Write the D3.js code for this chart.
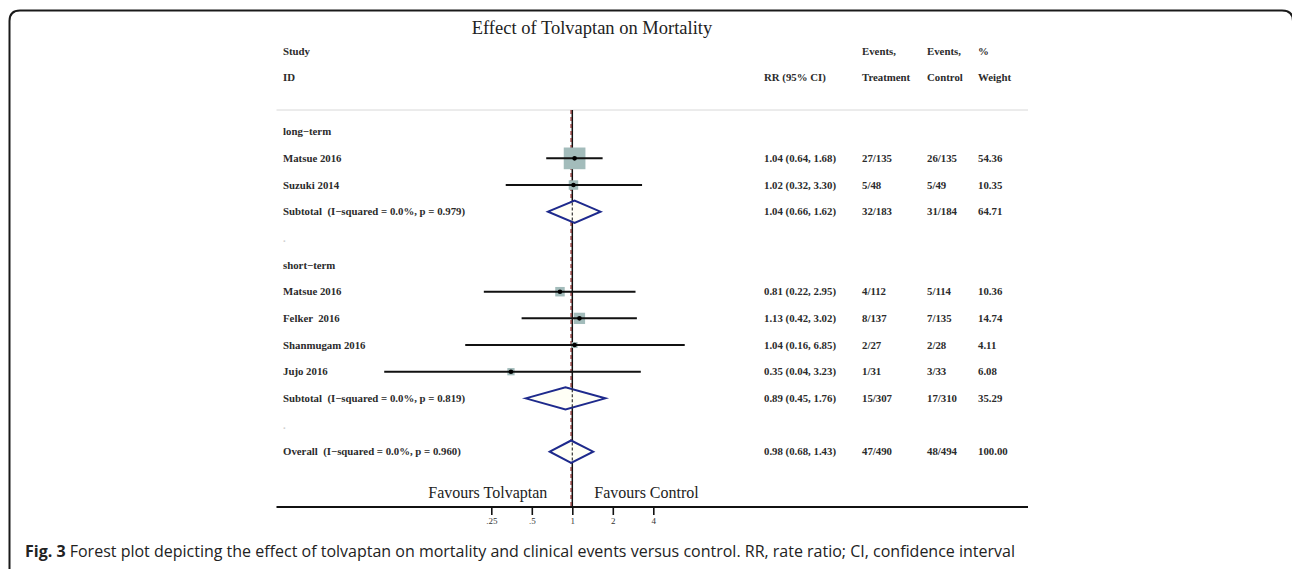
<!DOCTYPE html>
<html>
<head>
<meta charset="utf-8">
<script src="https://cdn.jsdelivr.net/npm/d3@7/dist/d3.min.js"></script>
<style>
  html, body { margin: 0; padding: 0; background: #fff; }
  svg { display: block; }
  text { white-space: pre; }
  .tbl { font-family: "Liberation Serif", "Times New Roman", serif; font-weight: bold; font-size: 10.8px; fill: #2b2b2b; }
</style>
</head>
<body>
<svg id="chart" width="1292" height="569"></svg>
<script>
// Rows of the forest plot, top to bottom
const rowLabels = [
  "long\u2212term", "Matsue 2016", "Suzuki 2014",
  "Subtotal  (I\u2212squared = 0.0%, p = 0.979)", ".",
  "short\u2212term", "Matsue 2016", "Felker  2016", "Shanmugam 2016", "Jujo 2016",
  "Subtotal  (I\u2212squared = 0.0%, p = 0.819)", ".",
  "Overall  (I\u2212squared = 0.0%, p = 0.960)"
];
const rowTypes = ["group", "study", "study", "subtotal", "blank",
  "group", "study", "study", "study", "study", "subtotal", "blank", "overall"];
const rr   = [null, 1.04, 1.02, 1.04, null, null, 0.81, 1.13, 1.04, 0.35, 0.89, null, 0.98];
const ciLo = [null, 0.64, 0.32, 0.66, null, null, 0.22, 0.42, 0.16, 0.04, 0.45, null, 0.68];
const ciHi = [null, 1.68, 3.30, 1.62, null, null, 2.95, 3.02, 6.85, 3.23, 1.76, null, 1.43];
const eventsTreatment = [null, "27/135", "5/48", "32/183", null, null, "4/112", "8/137", "2/27", "1/31", "15/307", null, "47/490"];
const eventsControl   = [null, "26/135", "5/49", "31/184", null, null, "5/114", "7/135", "2/28", "3/33", "17/310", null, "48/494"];
const weights = [null, 54.36, 10.35, 64.71, null, null, 10.36, 14.74, 4.11, 6.08, 35.29, null, 100.00];

// Axis ticks
const tickValues = [0.25, 0.5, 1, 2, 4];
const tickLabels = [".25", ".5", "1", "2", "4"];

const overallRR = 0.98;

const svg = d3.select("#chart");

// Panel frame with rounded top corners
svg.append("path")
  .attr("d", "M9.5,575 V21 Q9.5,10.5 20,10.5 H1282 Q1293,10.5 1293,21 V575")
  .attr("fill", "none").attr("stroke", "#1a1a1a").attr("stroke-width", 2);

// Scales
const x = d3.scaleLog().domain([0.25, 4]).range([491.3, 653.3]);
const y = d3.scaleLinear().domain([0, rowLabels.length - 1]).range([131.7, 451.7]);

const col = { label: 283, rr: 764, evT: 862, evC: 927, w: 978 };
const lineLeft = 276.5, lineRight = 1028;
const topY = 110, axisY = 507;

// Title
svg.append("text")
  .attr("x", 592).attr("y", 34)
  .attr("text-anchor", "middle")
  .style("font-family", "'Liberation Serif', serif")
  .style("font-size", "18.5px").style("fill", "#222")
  .text("Effect of Tolvaptan on Mortality");

// Column headers
const headers = [
  [col.label, 51, "Study"], [col.label, 77, "ID"],
  [col.rr, 77, "RR (95% CI)"],
  [col.evT, 51, "Events,"], [col.evT, 77, "Treatment"],
  [col.evC, 51, "Events,"], [col.evC, 77, "Control"],
  [col.w, 51, "%"], [col.w, 77, "Weight"]
];
svg.append("g").selectAll("text").data(headers).join("text")
  .attr("class", "tbl")
  .attr("x", d => d[0]).attr("y", d => d[1]).attr("dy", "0.35em")
  .text(d => d[2]);

// Header separator
svg.append("line")
  .attr("x1", lineLeft).attr("x2", lineRight).attr("y1", topY).attr("y2", topY)
  .attr("stroke", "#d8d8d8").attr("stroke-width", 1);

const idx = d3.range(rowLabels.length);

// Row labels
svg.append("g").selectAll("text").data(idx).join("text")
  .attr("class", "tbl")
  .attr("x", col.label).attr("y", i => y(i)).attr("dy", "0.35em")
  .style("fill", i => rowTypes[i] === "blank" ? "#cfcfcf" : null)
  .text(i => rowLabels[i]);

// Null line at RR = 1 and dashed line at the overall estimate
svg.append("line")
  .attr("x1", x(1)).attr("x2", x(1)).attr("y1", topY).attr("y2", axisY)
  .attr("stroke", "#111").attr("stroke-width", 1.5);
svg.append("line")
  .attr("x1", x(overallRR)).attr("x2", x(overallRR)).attr("y1", topY).attr("y2", axisY)
  .attr("stroke", "#8a3434").attr("stroke-width", 1.4).attr("stroke-dasharray", "4,3");

const studyIdx = idx.filter(i => rowTypes[i] === "study");
const poolIdx = idx.filter(i => rowTypes[i] === "subtotal" || rowTypes[i] === "overall");

// Weight boxes (area proportional to weight)
const boxSide = d3.scaleSqrt().domain([0, 54.36]).range([0, 21.7]);
svg.append("g").selectAll("rect").data(studyIdx).join("rect")
  .attr("x", i => x(rr[i]) - boxSide(weights[i]) / 2)
  .attr("y", i => y(i) - boxSide(weights[i]) / 2)
  .attr("width", i => boxSide(weights[i]))
  .attr("height", i => boxSide(weights[i]))
  .attr("fill", "#a3bcbb");

// Confidence intervals
svg.append("g").selectAll("line").data(studyIdx).join("line")
  .attr("x1", i => x(ciLo[i])).attr("x2", i => x(ciHi[i]))
  .attr("y1", i => y(i)).attr("y2", i => y(i))
  .attr("stroke", "#111").attr("stroke-width", 2);

// Point estimates
svg.append("g").selectAll("circle").data(studyIdx).join("circle")
  .attr("cx", i => x(rr[i])).attr("cy", i => y(i)).attr("r", 2.3)
  .attr("fill", "#000");

// Pooled estimates as diamonds
const halfH = 11.2;
svg.append("g").selectAll("path").data(poolIdx).join("path")
  .attr("d", i => `M${x(ciLo[i])},${y(i)} L${x(rr[i])},${y(i) - halfH} L${x(ciHi[i])},${y(i)} L${x(rr[i])},${y(i) + halfH} Z`)
  .attr("fill", "#fffff6").attr("stroke", "#1e2a8c").attr("stroke-width", 2)
  .attr("stroke-linejoin", "miter");

// Null line segment redrawn over the diamond fills
svg.append("g").selectAll("line").data(poolIdx).join("line")
  .attr("x1", x(1)).attr("x2", x(1))
  .attr("y1", i => y(i) - halfH + 2).attr("y2", i => y(i) + halfH - 2)
  .attr("stroke", "#333").attr("stroke-width", 1.2).attr("stroke-dasharray", "3,2");

// Right-hand table columns
const fmt = d3.format(".2f");
const valIdx = idx.filter(i => rr[i] !== null);
const g = svg.append("g");
g.selectAll("text.rrv").data(valIdx).join("text").attr("class", "tbl rrv")
  .attr("x", col.rr).attr("y", i => y(i)).attr("dy", "0.35em")
  .text(i => `${fmt(rr[i])} (${fmt(ciLo[i])}, ${fmt(ciHi[i])})`);
g.selectAll("text.evt").data(valIdx).join("text").attr("class", "tbl evt")
  .attr("x", col.evT).attr("y", i => y(i)).attr("dy", "0.35em")
  .text(i => eventsTreatment[i]);
g.selectAll("text.evc").data(valIdx).join("text").attr("class", "tbl evc")
  .attr("x", col.evC).attr("y", i => y(i)).attr("dy", "0.35em")
  .text(i => eventsControl[i]);
g.selectAll("text.wt").data(valIdx).join("text").attr("class", "tbl wt")
  .attr("x", col.w).attr("y", i => y(i)).attr("dy", "0.35em")
  .text(i => fmt(weights[i]));

// Favours labels
const favY = 492;
svg.append("text")
  .attr("x", x(1) - 25).attr("y", favY).attr("dy", "0.35em")
  .attr("text-anchor", "end")
  .style("font-family", "'Liberation Serif', serif").style("font-size", "16px").style("fill", "#222")
  .text("Favours Tolvaptan");
svg.append("text")
  .attr("x", x(1) + 22).attr("y", favY).attr("dy", "0.35em")
  .style("font-family", "'Liberation Serif', serif").style("font-size", "16px").style("fill", "#222")
  .text("Favours Control");

// X axis
svg.append("line")
  .attr("x1", lineLeft).attr("x2", lineRight).attr("y1", axisY).attr("y2", axisY)
  .attr("stroke", "#111").attr("stroke-width", 2);
const axis = d3.axisBottom(x)
  .tickValues(tickValues)
  .tickFormat((d, i) => tickLabels[i])
  .tickSize(8).tickPadding(3);
const ax = svg.append("g").attr("transform", `translate(0,${axisY})`).call(axis);
ax.select(".domain").remove();
ax.selectAll(".tick line").attr("stroke", "#111").attr("stroke-width", 1.6);
ax.selectAll(".tick text")
  .style("font-family", "'Liberation Serif', serif").style("font-size", "9px").style("fill", "#333");

// Figure caption
const cap = svg.append("text")
  .attr("x", 25).attr("y", 557)
  .style("font-family", "'Open Sans', 'Noto Sans', sans-serif").style("font-size", "16px").style("fill", "#222");
cap.append("tspan").style("font-weight", "bold").text("Fig. 3");
cap.append("tspan").text(" Forest plot depicting the effect of tolvaptan on mortality and clinical events versus control. RR, rate ratio; CI, confidence interval");
</script>
</body>
</html>
